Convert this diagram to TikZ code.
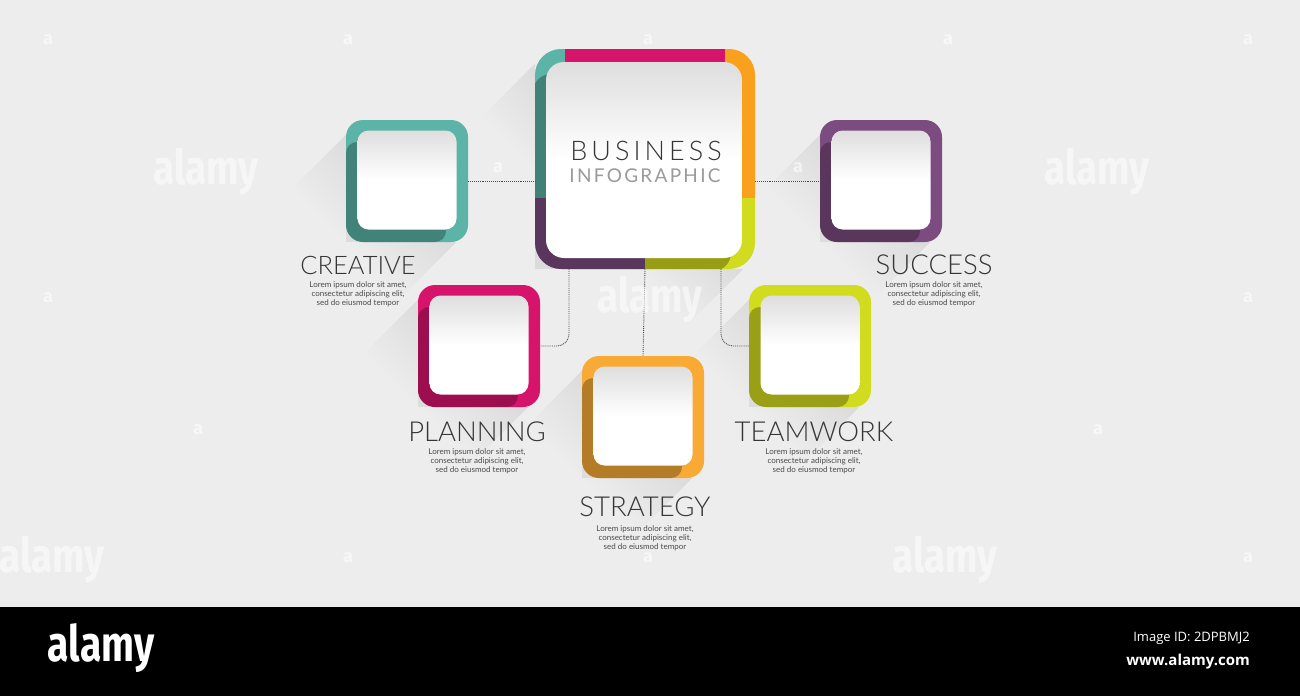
\documentclass[tikz,border=0pt]{standalone}
\usepackage{fontspec}
\setmainfont{Lato}
\IfFontExistsTF{Lato Light}{\newfontfamily\lightf{Lato Light}\newfontfamily\wideA{Lato Light}[LetterSpace=15]}{\newfontfamily\lightf{Lato}\newfontfamily\wideA{Lato}[LetterSpace=15]}
\newfontfamily\wideB{Lato}[LetterSpace=12]
\newfontfamily\logof{Fira Sans}
\newfontfamily\osans{Open Sans}
\definecolor{bg}{HTML}{EDEDED}
\definecolor{cteal}{HTML}{5BB4A7}
\definecolor{cmag}{HTML}{D7146B}
\definecolor{corange}{HTML}{F9A11C}
\definecolor{corange2}{HTML}{F8AA35}
\definecolor{cyel}{HTML}{D2DC1F}
\definecolor{cpur}{HTML}{7C4B7F}
\definecolor{wtop}{HTML}{DEDEDE}
\definecolor{tdark}{HTML}{353535}
\definecolor{tgray}{HTML}{9A9A9A}
\definecolor{tlor}{HTML}{4A4A4A}
\definecolor{cdot}{HTML}{4A4A4A}
\newcommand\lsh[4]{\foreach \L in {3,6,...,54}{\fill[black,opacity=.0035] (#1,#2+14) -- ++(-\L,\L) -- (#3-12-\L,#4+\L) -- (#3-12,#4) -- (#1,#4) -- cycle;}}
\tikzset{
  sbox/.style={minimum size=122pt, inner sep=0pt, rounded corners=17pt, fill=#1,
    path picture={\fill[black,opacity=.27,rounded corners=11pt] (path picture bounding box.south west) rectangle ([shift={(-22pt,-22pt)}]path picture bounding box.north east);}},
  wbox/.style={minimum size=99pt, inner sep=0pt, rounded corners=11pt, top color=wtop, bottom color=white, middle color=white},
  lab/.style={font=\lightf\fontsize{27.5}{27.5}\selectfont, text=tdark, inner sep=0pt},
  lor/.style={font=\fontsize{8}{9.2}\selectfont, text=tlor, align=center, inner sep=0pt},
  conn/.style={densely dotted, line width=0.9pt, draw=cdot},
  wmark/.style={font=\logof\bfseries\fontsize{48}{48}\selectfont, text=white, opacity=.55, xscale=.8, inner sep=0pt},
  wsmall/.style={font=\logof\bfseries\fontsize{18}{18}\selectfont, text=white, opacity=.6, inner sep=0pt}
}
\begin{document}
\begin{tikzpicture}[x=1pt,y=-1pt]
\useasboundingbox (0,0) rectangle (1300,696);
\fill[bg] (0,0) rectangle (1300,607);
\fill[black] (0,607) rectangle (1300,696);

% long shadows
\lsh{535}{49}{755}{269}
\lsh{346}{120}{468}{242}
\lsh{418}{285}{540}{407}
\lsh{582}{356}{704}{478}
\lsh{749}{285}{871}{407}
\lsh{820}{120}{942}{242}

% hub frame
\node[minimum size=220pt, inner sep=0pt] (hub) at (645,159) {};
\begin{scope}
  \clip[rounded corners=26pt] (535,49) rectangle (755,269);
  \fill[cteal] (530,44) rectangle (565,198);
  \fill[cmag] (565,44) rectangle (725,198);
  \fill[corange] (725,44) rectangle (760,198);
  \fill[cpur] (530,198) rectangle (645,275);
  \fill[cyel] (645,198) rectangle (760,275);
  \fill[black,opacity=.28,rounded corners=18pt] (533,74) rectangle (731,271);
\end{scope}
\node[wbox, minimum size=196pt, rounded corners=18pt] (hubin) at (644,160) {};
\node[font=\wideA\fontsize{27}{27}\selectfont, text=tdark, inner sep=0pt] (bus) at (646,151) {BUSINESS};
\node[font=\wideB\fontsize{19}{19}\selectfont, text=tgray, inner sep=0pt] (info) at (645,176) {INFOGRAPHIC};

% small boxes
\node[sbox=cteal] (creative) at (407,181) {};
\node[wbox] (creativein) at (407,180) {};
\node[sbox=cmag] (planning) at (479,346) {};
\node[wbox] (planningin) at (479,345) {};
\node[sbox=corange2] (strategy) at (643,417) {};
\node[wbox] (strategyin) at (643,416) {};
\node[sbox=cyel] (teamwork) at (810,346) {};
\node[wbox] (teamworkin) at (810,345) {};
\node[sbox=cpur] (success) at (881,181) {};
\node[wbox] (successin) at (881,180) {};

% connectors
\draw[conn] (creative.east) -- (creative.east -| hub.west);
\draw[conn] (success.west -| hub.east) -- (success.west);
\draw[conn] (hub.south) -- (strategy.north);
\draw[conn, rounded corners=12pt] ([xshift=-76pt]hub.south) |- (planning.east);
\draw[conn, rounded corners=12pt] ([xshift=76pt]hub.south) |- (teamwork.west);

% labels
\node[lab, font=\lightf\fontsize{25.5}{25.5}\selectfont] (lcreative) at (358,265) {CREATIVE};
\node[lor] (tcreative) at (358,294) {Lorem ipsum dolor sit amet,\\consectetur adipiscing elit,\\sed do eiusmod tempor};
\node[lab] (lplanning) at (477,432) {PLANNING};
\node[lor] (tplanning) at (477,461) {Lorem ipsum dolor sit amet,\\consectetur adipiscing elit,\\sed do eiusmod tempor};
\node[lab] (lstrategy) at (645,507) {STRATEGY};
\node[lor] (tstrategy) at (645,538) {Lorem ipsum dolor sit amet,\\consectetur adipiscing elit,\\sed do eiusmod tempor};
\node[lab] (lteamwork) at (814,432) {TEAMWORK};
\node[lor] (tteamwork) at (814,461) {Lorem ipsum dolor sit amet,\\consectetur adipiscing elit,\\sed do eiusmod tempor};
\node[lab] (lsuccess) at (934,265) {SUCCESS};
\node[lor] (tsuccess) at (934,294) {Lorem ipsum dolor sit amet,\\consectetur adipiscing elit,\\sed do eiusmod tempor};

% watermarks
\node[wmark] (w1) at (206,172) {alamy};
\node[wmark] (w2) at (650,300) {alamy};
\node[wmark] (w3) at (1097,172) {alamy};
\node[wmark] (w4) at (52,560) {alamy};
\node[wmark] (w5) at (945,560) {alamy};
\foreach \p [count=\i] in {(48,40),(348,40),(648,40),(948,40),(1248,40),(498,168),(798,168),(48,298),(1248,298),(198,430),(1098,430),(348,558),(648,558),(1248,558)}
  \node[wsmall] (s\i) at \p {a};

% footer
\node[font=\logof\bfseries\fontsize{50}{50}\selectfont, text=white, xscale=.78, inner sep=0pt] (logo) at (101,648) {alamy};
\node[anchor=east, font=\osans\fontsize{13}{13}\selectfont, text=white, inner sep=0pt] (imgid) at (1250,638) {Image ID: 2DPBMJ2};
\node[anchor=east, font=\osans\bfseries\fontsize{15}{15}\selectfont, text=white, inner sep=0pt] (url) at (1250,662) {www.alamy.com};
\end{tikzpicture}
\end{document}
